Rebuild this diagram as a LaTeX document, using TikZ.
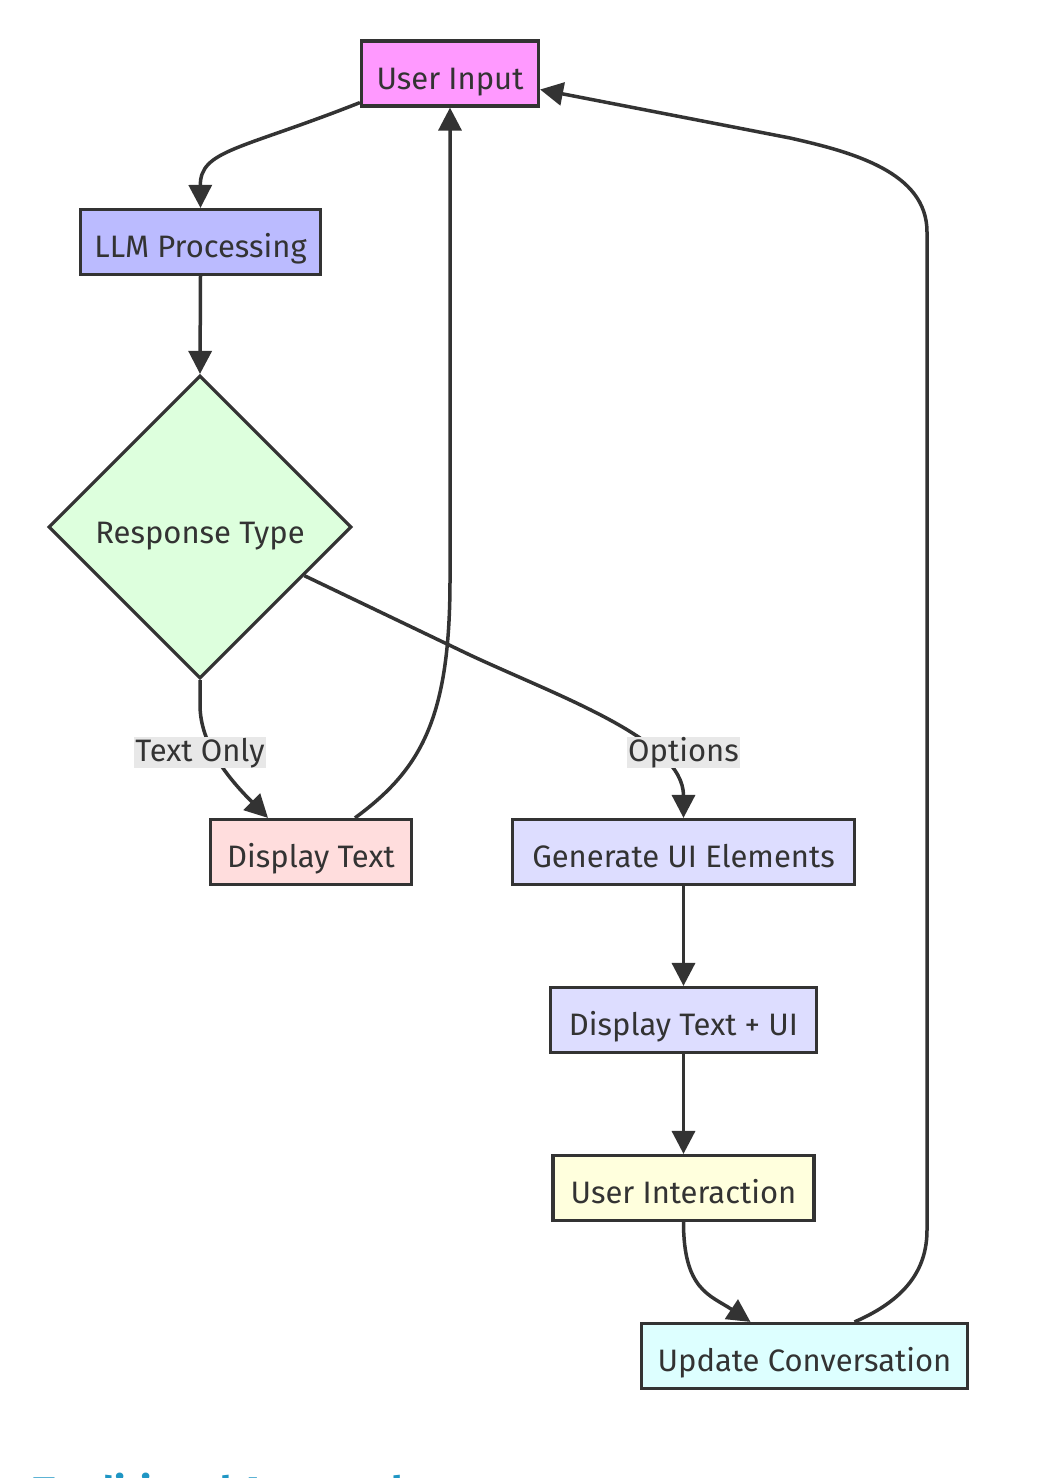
\documentclass[tikz,border=0pt]{standalone}
\usepackage{fontspec}
\setmainfont{Fira Sans}
\usetikzlibrary{shapes.geometric,arrows.meta,calc}
\definecolor{ink}{HTML}{333333}
\definecolor{cUI}{HTML}{FF99FF}
\definecolor{cLLM}{HTML}{BBBBFF}
\definecolor{cRT}{HTML}{DDFFDD}
\definecolor{cDT}{HTML}{FFDDDD}
\definecolor{cGen}{HTML}{DDDDFF}
\definecolor{cInt}{HTML}{FFFFDD}
\definecolor{cUpd}{HTML}{DDFFFF}
\definecolor{cLbl}{HTML}{E8E8E8}
\definecolor{cTitle}{HTML}{1F96C4}
\begin{document}
\begin{tikzpicture}[x=1pt,y=-1pt,
  every node/.style={font=\fontsize{31}{36}\selectfont, text=ink},
  box/.style={draw=ink, line width=3.2pt, rectangle, inner sep=0pt, minimum height=65pt, text height=31pt, text depth=0pt},
  dec/.style={draw=ink, line width=3.2pt, diamond, inner sep=0pt, aspect=1, minimum width=303pt, minimum height=303pt, text height=32pt, text depth=0pt},
  elabel/.style={fill=cLbl, inner xsep=1pt, inner ysep=0pt, minimum height=31pt, text height=24pt, text depth=6pt},
  link/.style={draw=ink, line width=3.5pt, -{Triangle[length=23pt,width=23pt]}},
]
\useasboundingbox (0,0) rectangle (1052,1478);
\fill[white] (0,0) rectangle (1052,1478);

\node[box, fill=cUI,  minimum width=177pt] (ui)   at (450,73.5) {User Input};
\node[box, fill=cLLM, minimum width=240pt] (llm)  at (200.5,242) {LLM Processing};
\node[dec, fill=cRT] (rt) at (200,527) {Response Type};
\node[box, fill=cDT,  minimum width=201pt] (dt)   at (311,852) {Display Text};
\node[box, fill=cGen, minimum width=342pt] (gen)  at (683.5,852) {Generate UI Elements};
\node[box, fill=cGen, minimum width=266pt] (dtu)  at (683.5,1020) {Display Text + UI};
\node[box, fill=cInt, minimum width=261pt] (uint) at (683.5,1188) {User Interaction};
\node[box, fill=cUpd, minimum width=326pt] (upd)  at (804.5,1356) {Update Conversation};

% connectors
\draw[link] ([yshift=5pt]ui.south west) .. controls (240,150) and (200,150) .. (llm.north);
\draw[link] (llm.south) -- (rt.north);
\draw[link] (rt.south) -- (200,705) .. controls (200,745) and (230,780) .. ([xshift=-43pt]dt.north);
\draw[link] (rt.-25) -- (470,655) .. controls (560,697) and (683.5,740) .. (gen.north);
\draw[link] ([xshift=44pt]dt.north) .. controls (420,770) and (450,720) .. (450,580) -- (ui.south);
\draw[link] (gen.south) -- (dtu.north);
\draw[link] (dtu.south) -- (uint.north);
\draw[link] (uint.south) .. controls (683.5,1290) and (710,1295) .. ([xshift=-54pt]upd.north);
\draw[link] ([xshift=50pt]upd.north) .. controls (905,1300) and (927,1270) .. (927,1230) -- (927,232) .. controls (927,172) and (852,152) .. (790,138) -- ([yshift=-16pt]ui.east);

% edge labels
\node[elabel] (lto) at (200,752) {Text Only};
\node[elabel] (lop) at (683.5,752) {Options};

% cut-off heading
\node[anchor=north west, inner sep=0pt, text=cTitle, font=\fontsize{40}{46}\selectfont\bfseries] (title) at (33,1473) {Traditional Approach};
\end{tikzpicture}
\end{document}
